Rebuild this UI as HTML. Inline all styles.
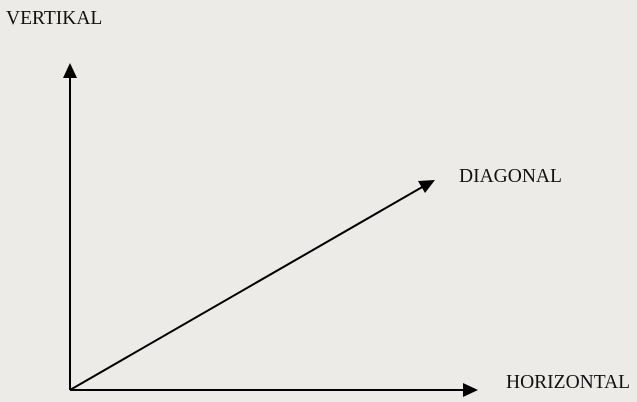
<!DOCTYPE html>
<html><head><style>
html,body{margin:0;padding:0;background:#ecebe8;}
svg{display:block;}
text{font-family:"Liberation Serif",serif;font-size:19.5px;fill:#111;}
</style></head><body>
<svg width="637" height="402" viewBox="0 0 637 402">
<rect width="637" height="402" fill="#ecebe8"/>
<g stroke="#000" stroke-width="2" fill="none">
<line x1="70" y1="390" x2="70" y2="76"/>
<line x1="70" y1="390" x2="464" y2="390"/>
<line x1="70" y1="390" x2="424" y2="186"/>
</g>
<polygon points="70,63 63,78 77,78" fill="#000"/>
<polygon points="478,390 463,383 463,397" fill="#000"/>
<polygon points="435,180 418,181 425,193" fill="#000"/>
<text x="6" y="24">VERTIKAL</text>
<text x="459" y="182">DIAGONAL</text>
<text x="506" y="388">HORIZONTAL</text>
</svg>
</body></html>
